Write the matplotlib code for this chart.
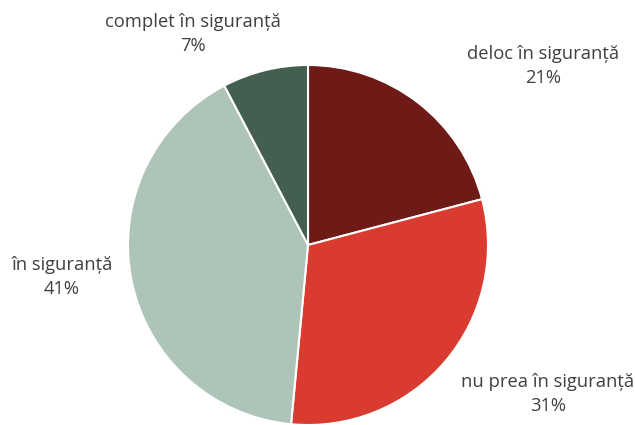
import matplotlib.pyplot as plt

labels = ['deloc în siguranță', 'nu prea în siguranță', 'în siguranță', 'complet în siguranță']
shares = [20.9, 30.6, 40.8, 7.7]   # slice sizes
pct = [21, 31, 41, 7]              # percentages printed on the labels
colors = ['#6E1A16', '#D93B30', '#AEC4B8', '#445E50']

# label anchor points (pixel coords from the top-left)
label_pos = [(543, 66), (548, 394), (62, 277), (193, 34)]

fig = plt.figure(figsize=(6.35, 4.25), dpi=100)
ax = fig.add_axes([0, 0, 1, 1])

ax.pie(shares, colors=colors, startangle=90, counterclock=False,
       center=(308, 425 - 245), radius=180,
       wedgeprops=dict(edgecolor='white', linewidth=1.5), frame=True)
ax.set_xlim(0, 635)
ax.set_ylim(0, 425)
ax.set_aspect('equal')
ax.axis('off')

for lab, p, (x, y) in zip(labels, pct, label_pos):
    ax.text(x, 425 - y, f'{lab}\n{p}%', ha='center', va='center',
            fontsize=13.2, color='#404040', family='Open Sans', linespacing=1.45)

fig.savefig('out.png', dpi=100)
